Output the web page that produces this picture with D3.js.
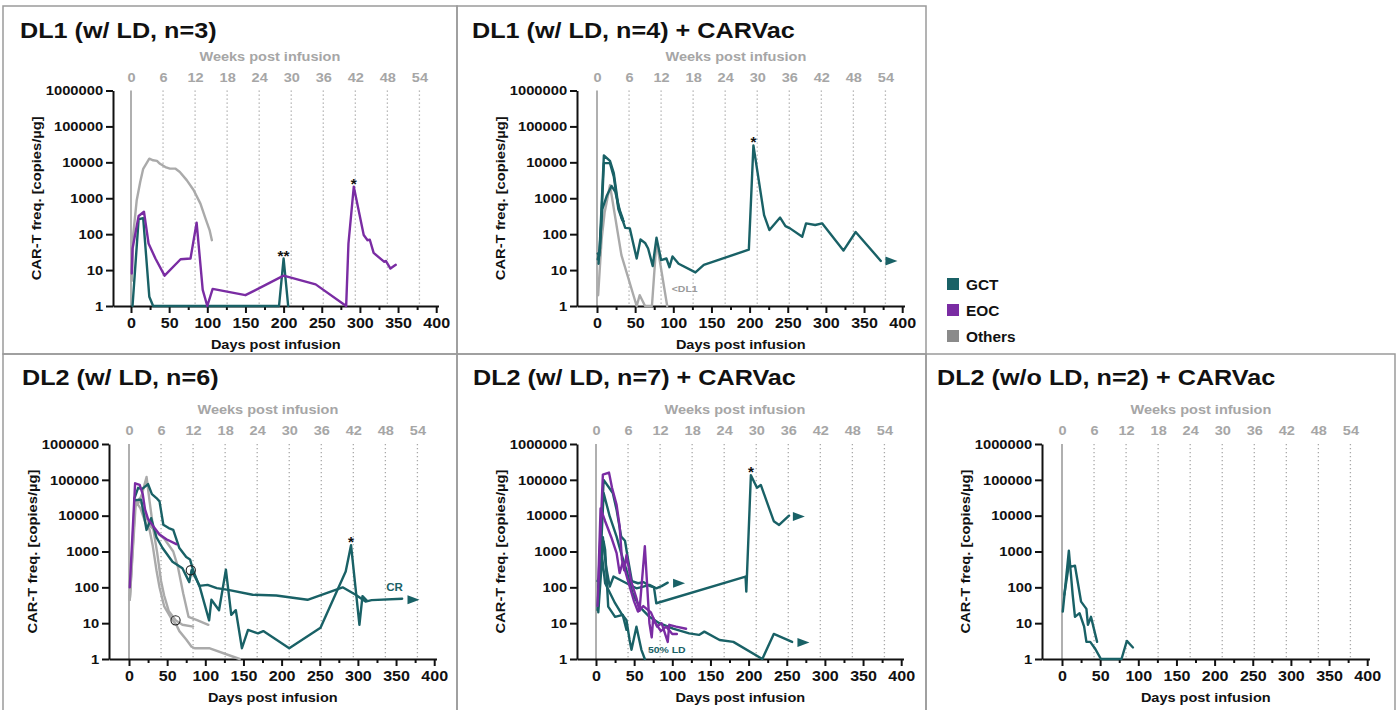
<!DOCTYPE html>
<html>
<head>
<meta charset="utf-8">
<script src="https://cdn.jsdelivr.net/npm/d3@7"></script>
<style>
  html, body { margin: 0; padding: 0; background: #fff; }
  svg { display: block; }
</style>
</head>
<body>
<svg id="fig" width="1397" height="710"></svg>
<script>
// ---- categories and tick values ----
const groups = ["GCT", "EOC", "Others"];
const dayTicks = [0, 50, 100, 150, 200, 250, 300, 350, 400];
const dayMinorTicks = [25, 75, 125, 175, 225, 275, 325, 375];
const weekTicks = [0, 6, 12, 18, 24, 30, 36, 42, 48, 54];
const freqTicks = [1, 10, 100, 1000, 10000, 100000, 1000000];

// ---- DL1 (w/ LD, n=3): [day, copies/µg] ----
const dl1Others = [[1,5],[3,100],[7.5,880],[12,2800],[16,6600],[24,12600],[29,11400],[34,11000],[38,9100],[45,7400],[51,6700],[58,6700],[64,5400],[73,3200],[82,1700],[91,710],[97,300],[103,130],[106,68]];
const dl1Eoc = [[1,8],[2,40],[10,320],[17,420],[23,55],[32,21],[44,7],[65,20],[78,21],[86,210],[94,2.8],[100,1],[107,3],[150,2],[200,7],[242,4],[282,1],[285,55],[292,2100],[305,95],[310,68],[313,70],[318,30],[332,17],[334,18],[340,11],[347,14]];
const dl1Gct = [[2,1],[10,260],[16,280],[24,1.8],[29,1],[194,1],[200,21],[206,1]];
const dl1Stars = [[200,21,"**"],[292,2100,"*"]];

// ---- DL1 (w/ LD, n=4) + CARVac ----
const dl1vOthers = [[1.5,2],[6,70],[10,400],[17,2300],[32,26],[52,1],[56,2],[63,1],[72,1],[78,65],[92,1]];
const dl1vGctA = [[1,29],[3,25],[9,15500],[17,11000],[22,5000],[28,600],[32,300],[35,200],[37,150],[43,145],[52,21],[57,71],[63,57],[67,40],[73,13],[78,80],[84,19],[91,21],[95,12],[99,24],[107,15],[129,8.6],[140,14],[199,37],[205,29500],[219,340],[226,130],[240,290],[247,167],[253,145],[269,85],[274,200],[286,180],[295,200],[323,35],[339,115],[372,18]];
const dl1vGctB = [[1,20],[4,40],[9,9500],[17,9500],[22,4000],[28,500],[33,250],[35,230]];
const dl1vGctC = [[2,15],[7,500],[13,1200],[19,2200],[24,1500],[30,450],[34,260]];
const dl1vArrows = [[378,18]];
const dl1vStars = [[205,29500,"*"]];
const dl1vNotes = [[98,2.5,"<DL1","Others"]];

// ---- DL2 (w/ LD, n=6) ----
const dl2OthersA = [[1,45],[7,18000],[12,22000],[17,40000],[23,120000],[27,25000],[32,4000],[37,900],[42,150],[46,60],[52,22],[61,12],[70,9],[84,8]];
const dl2OthersB = [[1,45],[8,20000],[14,30000],[22,10000],[28,5000],[36,3500],[46,2300],[58,1000],[64,380],[71,68],[78,15],[90,12],[104,9]];
const dl2OthersC = [[1,45],[9,25000],[15,16000],[22,6000],[27,4000],[31,1500],[36,300],[40,100],[46,30],[55,14],[62,9],[66,6],[75,3.5],[82,2.2],[86,2],[105,2],[145,1]];
const dl2Eoc = [[1,100],[8,80000],[14,72000],[18,40000],[21,15000],[25,8000],[32,5000],[40,3000],[49,2200],[62,1600]];
const dl2GctA = [[7,27000],[16,28000],[23,4000],[29,8500],[36,2500],[44,1250],[57,520],[70,340],[79,140],[82,300],[92,117],[105,12],[108,45],[118,23],[127,310],[134,17],[140,23],[148,2],[156,6.5],[169,5.2],[176,6],[210,2],[251,7.5],[284,275],[291,1500],[302,9],[306,57],[312,42]];
const dl2GctB = [[7,30000],[12,60000],[17,55000],[25,76000],[30,40000],[36,31000],[40,25000],[45,5600],[52,4500],[58,4000],[66,1250],[75,700],[80,600],[84,300],[92,110],[103,117],[115,95],[130,85],[162,62],[193,59],[234,45],[280,100],[297,62],[310,40],[318,44],[358,48]];
const dl2Circles = [[61,12],[81,300]];
const dl2Arrows = [[365,45]];
const dl2Stars = [[291,1500,"*"]];
const dl2Notes = [[337,79,"CR","GCT"]];

// ---- DL2 (w/ LD, n=7) + CARVac ----
const dl2vEocA = [[2,30],[9,140000],[17,160000],[21,60000],[27,20000],[31,5000],[34,600],[37,300],[40,800],[46,150],[53,50],[57,22],[64,1400],[70,10],[73,4],[75,14],[80,8],[86,10],[94,3],[96,9],[105,8],[118,7]];
const dl2vEocB = [[3,150],[6,16000],[12,7000],[20,2500],[27,900],[31,250],[35,500],[42,150],[50,40],[55,21],[62,30],[72,20],[78,10],[85,6],[92,8],[100,5],[106,5]];
const dl2vGctA = [[2,23],[10,100000],[22,43000],[27,14500],[33,2600],[38,2000],[42,600],[47,150],[55,130],[62,140],[70,110],[76,100],[79,36],[196,200],[197,76],[203,135000],[211,60000],[216,72000],[233,7000],[240,5500],[253,10000]];
const dl2vGctB = [[3,30],[10,43000],[18,9500],[27,2600],[33,900],[40,300],[48,68],[57,29],[70,15],[83,10],[101,7],[122,5.2],[135,4.7],[142,5.8],[162,3.4],[180,3],[218,1],[233,5],[257,3]];
const dl2vGctC = [[2,150],[5,200],[10,1900],[12,1100],[16,29],[25,15],[35,17],[40,6.5]];
const dl2vGctD = [[3,100],[9,2500],[13,400],[18,105],[23,200],[40,130],[53,94],[62,105],[70,117],[79,94],[86,108],[94,135]];
const dl2vGctE = [[3,20],[8,700],[12,130],[25,36],[33,19],[40,12],[44,3.4],[46.5,1.8],[53,8],[59.5,1.8],[64,1]];
const dl2vArrows = [[101,130],[258,9500],[264,2.9]];
const dl2vStars = [[203,135000,"*"]];
const dl2vNotes = [[68,1.5,"50% LD","GCT"]];

// ---- DL2 (w/o LD, n=2) + CARVac ----
const dl2nGctA = [[1,21],[9,1050],[14,62],[17,15],[23,19],[29,8],[32,3],[37,3],[43,2],[51,1],[78,1],[85,3.2],[93,2.1]];
const dl2nGctB = [[3,62],[9,425],[12,380],[17,400],[25,40],[32,25],[34,9],[38,15],[46,3]];

// ---- panel contents ----
const panels = [
  { title: "DL1 (w/ LD, n=3)",
    series: [["Others", dl1Others], ["GCT", dl1Gct], ["EOC", dl1Eoc]],
    stars: dl1Stars, arrows: [], circles: [], notes: [] },
  { title: "DL1 (w/ LD, n=4) + CARVac",
    series: [["Others", dl1vOthers], ["GCT", dl1vGctC], ["GCT", dl1vGctB], ["GCT", dl1vGctA]],
    stars: dl1vStars, arrows: dl1vArrows, circles: [], notes: dl1vNotes },
  { title: "DL2 (w/ LD, n=6)",
    series: [["Others", dl2OthersA], ["Others", dl2OthersB], ["Others", dl2OthersC], ["GCT", dl2GctA], ["GCT", dl2GctB], ["EOC", dl2Eoc]],
    stars: dl2Stars, arrows: dl2Arrows, circles: dl2Circles, notes: dl2Notes },
  { title: "DL2 (w/ LD, n=7) + CARVac",
    series: [["GCT", dl2vGctA], ["GCT", dl2vGctB], ["GCT", dl2vGctC], ["GCT", dl2vGctD], ["GCT", dl2vGctE], ["EOC", dl2vEocA], ["EOC", dl2vEocB]],
    stars: dl2vStars, arrows: dl2vArrows, circles: [], notes: dl2vNotes },
  { title: "DL2 (w/o LD, n=2) + CARVac",
    series: [["GCT", dl2nGctA], ["GCT", dl2nGctB]],
    stars: [], arrows: [], circles: [], notes: [] }
];

// ---- layout (pixels) ----
const FONT = "'Liberation Sans', Arial, Helvetica, sans-serif";
const SX = 1.1;              // horizontal widening of the lettering
const PX_PER_DAY = 0.763;
const layouts = [
  { fx: 3,   fy: 6,   fw: 454, fh: 348, spine: 113,  zero: 131,  top: 90.5, bottom: 306, titleX: 20,  titleY: 38 },
  { fx: 457, fy: 6,   fw: 469, fh: 348, spine: 577,  zero: 597,  top: 90.5, bottom: 306, titleX: 472, titleY: 38 },
  { fx: 3,   fy: 354, fw: 454, fh: 360, spine: 109,  zero: 129,  top: 444,  bottom: 659, titleX: 22,  titleY: 384.5 },
  { fx: 457, fy: 354, fw: 469, fh: 360, spine: 577,  zero: 596,  top: 444,  bottom: 659, titleX: 473, titleY: 384.5 },
  { fx: 926, fy: 354, fw: 469, fh: 360, spine: 1042, zero: 1062, top: 444,  bottom: 659, titleX: 937, titleY: 384.5 }
];

const color = d3.scaleOrdinal().domain(groups).range(["#196166", "#7a2ca3", "#aaaaaa"]);
const legendColor = d3.scaleOrdinal().domain(groups).range(["#196166", "#7a2ca3", "#8a8a8a"]);

const svg = d3.select("#fig").attr("font-family", FONT);

function label(g, x, y, str, o = {}) {
  return g.append("text")
    .attr("transform", `translate(${x},${y}) scale(${o.sx || SX},1)`)
    .attr("text-anchor", o.anchor || "start")
    .attr("font-size", o.size || 12)
    .attr("font-weight", o.weight || "bold")
    .attr("fill", o.fill || "#111")
    .text(str);
}

// panel frames
layouts.forEach(L => {
  svg.append("rect")
    .attr("x", L.fx).attr("y", L.fy).attr("width", L.fw).attr("height", L.fh)
    .attr("fill", "none").attr("stroke", "#9a9a9a").attr("stroke-width", 1.5);
});

panels.forEach((p, i) => {
  const L = layouts[i];
  const g = svg.append("g");
  const x = d3.scaleLinear()
    .domain([-(L.zero - L.spine) / PX_PER_DAY, 403])
    .range([L.spine, L.zero + 403 * PX_PER_DAY]);
  const y = d3.scaleLog().domain([1, 1e6]).range([L.bottom, L.top]);
  const wk = d3.scaleLinear().domain([0, 54]).range([x(0), x(378)]);

  // title
  label(g, L.titleX, L.titleY, p.title, { size: 22.5, sx: 1.12 });

  // week grid (dotted) and day-0 marker
  g.selectAll("line.grid").data(weekTicks.filter(w => w > 0)).join("line")
    .attr("class", "grid")
    .attr("x1", w => wk(w)).attr("x2", w => wk(w))
    .attr("y1", y(1e6)).attr("y2", y(1))
    .attr("stroke", "#a8a8a8").attr("stroke-width", 1.3).attr("stroke-dasharray", "1.3,2.7");
  g.append("line")
    .attr("x1", x(0)).attr("x2", x(0)).attr("y1", y(1e6)).attr("y2", y(1))
    .attr("stroke", "#b0b0b0").attr("stroke-width", 2);

  // top week axis
  const wAxis = g.append("g").attr("transform", `translate(0,${L.top - 9})`)
    .call(d3.axisTop(wk).tickValues(weekTicks).tickSize(0).tickPadding(0));
  wAxis.select(".domain").remove();
  wAxis.attr("font-family", FONT).attr("font-size", 13.2);
  wAxis.selectAll("text").attr("fill", "#a6a6a6").attr("font-weight", "bold")
    .attr("transform", `scale(${SX},1)`);
  label(g, wk(26), L.top - 30, "Weeks post infusion", { size: 13.2, anchor: "middle", fill: "#a6a6a6" });

  // y axis
  const yAxis = g.append("g").attr("transform", `translate(${L.spine},0)`)
    .call(d3.axisLeft(y).tickValues(freqTicks).tickFormat(d3.format("d"))
      .tickSize(7).tickSizeOuter(0).tickPadding(2));
  yAxis.attr("font-family", FONT).attr("font-size", 13.4);
  yAxis.selectAll("path, line").attr("stroke", "#111").attr("stroke-width", 2);
  yAxis.selectAll("text").attr("fill", "#111").attr("font-weight", "bold")
    .attr("transform", `scale(${SX},1)`);

  // x axis (major + minor ticks)
  const xAxis = g.append("g").attr("transform", `translate(0,${L.bottom})`)
    .call(d3.axisBottom(x).tickValues(dayTicks).tickSize(7).tickSizeOuter(0).tickPadding(4.5));
  xAxis.attr("font-family", FONT).attr("font-size", 14.6);
  xAxis.selectAll("path, line").attr("stroke", "#111").attr("stroke-width", 2);
  xAxis.selectAll("text").attr("fill", "#111").attr("font-weight", "bold")
    .attr("transform", `scale(${SX},1)`);
  const xMinor = g.append("g").attr("transform", `translate(0,${L.bottom})`)
    .call(d3.axisBottom(x).tickValues(dayMinorTicks).tickSize(4).tickFormat(""));
  xMinor.select(".domain").remove();
  xMinor.selectAll("line").attr("stroke", "#111").attr("stroke-width", 2);

  // axis titles
  label(g, (L.spine + x(403)) / 2, L.bottom + 42.5, "Days post infusion", { size: 13.2, anchor: "middle" });
  g.append("text")
    .attr("transform", `translate(${L.spine - 77},${(L.top + L.bottom) / 2}) rotate(-90) scale(${SX},1)`)
    .attr("text-anchor", "middle").attr("dy", "0.35em")
    .attr("font-size", 13.4).attr("font-weight", "bold").attr("fill", "#111")
    .text("CAR-T freq. [copies/µg]");

  // patient curves
  const line = d3.line().x(d => x(d[0])).y(d => y(d[1]));
  g.selectAll("path.series").data(p.series).join("path")
    .attr("class", "series")
    .attr("d", d => line(d[1]))
    .attr("fill", "none")
    .attr("stroke", d => color(d[0]))
    .attr("stroke-width", 2.4)
    .attr("stroke-linejoin", "round")
    .attr("stroke-linecap", "round");

  // continuation arrows
  g.selectAll("path.arrow").data(p.arrows).join("path")
    .attr("class", "arrow")
    .attr("d", d => {
      const x1 = x(d[0]), yy = y(d[1]);
      return `M${x1},${yy - 4.5}L${x1 + 12},${yy}L${x1},${yy + 4.5}Z`;
    })
    .attr("fill", color("GCT"));

  // open circle markers
  g.selectAll("circle.mark").data(p.circles).join("circle")
    .attr("class", "mark")
    .attr("cx", d => x(d[0])).attr("cy", d => y(d[1])).attr("r", 4.6)
    .attr("fill", "none").attr("stroke", "#222").attr("stroke-width", 1.1);

  // asterisks above peaks
  p.stars.forEach(s => label(g, x(s[0]), y(s[1]) + 2, s[2], { size: 14, anchor: "middle" }));

  // in-plot notes
  p.notes.forEach(n => label(g, x(n[0]), y(n[1]), n[2], {
    size: n[2] === "CR" ? 10.5 : 9.5, fill: n[3] === "Others" ? "#9a9a9a" : color(n[3])
  }));
});

// legend
const leg = svg.append("g").attr("transform", "translate(947,278)");
groups.forEach((k, i) => {
  leg.append("rect").attr("x", 0).attr("y", i * 26).attr("width", 12).attr("height", 12)
    .attr("fill", legendColor(k));
  label(leg, 19, i * 26 + 11.5, k, { size: 14 });
});
</script>
</body>
</html>
